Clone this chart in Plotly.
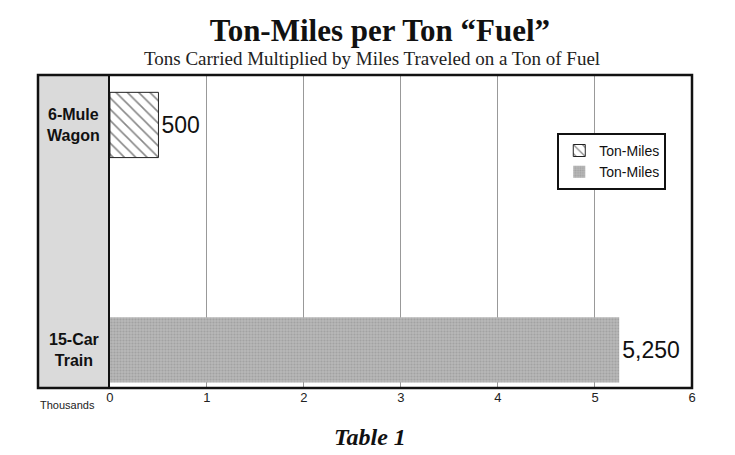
import plotly.graph_objs as go

categories = ['6-Mule Wagon', '15-Car Train']
labels = ['6-Mule<br>Wagon', '15-Car<br>Train']
ton_miles = [0.5, 5.25]  # thousands
ticks = [0, 1, 2, 3, 4, 5, 6]

serif = 'Liberation Serif, Times New Roman, serif'
sans = 'Liberation Sans, Arial, sans-serif'

y_range = [1.169, -0.222]  # reversed category axis

fig = go.Figure()

# wagon bar - diagonal hatch
fig.add_trace(go.Bar(
    y=[categories[0]], x=[ton_miles[0]], orientation='h', name='Ton-Miles',
    width=0.29,
    marker=dict(color='white', line=dict(color='#222', width=1),
                pattern=dict(shape='\\', fgcolor='#111', bgcolor='white',
                             size=8, solidity=0.2)),
    text=[f'{ton_miles[0] * 1000:,.0f}'], textposition='outside',
    textfont=dict(family=sans, size=23, color='#111'), cliponaxis=False,
))

# train bar - gray stipple
fig.add_trace(go.Bar(
    y=[categories[1]], x=[ton_miles[1]], orientation='h', name='Ton-Miles',
    width=0.29,
    marker=dict(color='#b0b0b0', line=dict(width=0),
                pattern=dict(shape='.', fgcolor='#8a8a8a', bgcolor='#b8b8b8',
                             size=3, solidity=0.4)),
    text=[f'{ton_miles[1] * 1000:,.0f}'], textposition='outside',
    textfont=dict(family=sans, size=23, color='#111'), cliponaxis=False,
))

# gray band behind category labels
fig.add_shape(type='rect', xref='paper', yref='paper', x0=0, x1=0.110, y0=0, y1=1,
              fillcolor='#dadada', line=dict(width=0), layer='below')
# outer frame
fig.add_shape(type='rect', xref='paper', yref='paper', x0=0, x1=1, y0=0, y1=1,
              line=dict(color='#111', width=2.5))

# category labels sit in the gray band, level with their bars
for i, lab in enumerate(labels):
    yp = (y_range[0] - i) / (y_range[0] - y_range[1])
    fig.add_annotation(x=0.055, xref='paper', y=yp, yref='paper', text='<b>' + lab + '</b>',
                       showarrow=False, font=dict(family=sans, size=16, color='#111'),
                       align='center', xanchor='center', yanchor='middle')

fig.add_annotation(x=0.0, xref='paper', y=-0.054, yref='paper', yanchor='middle',
                   text='Thousands', showarrow=False, xanchor='left',
                   font=dict(family=sans, size=11, color='#222'))
fig.add_annotation(x=0.508, xref='paper', y=-0.157, yref='paper', yanchor='middle',
                   text='<b><i>Table 1</i></b>',
                   showarrow=False, font=dict(family=serif, size=24, color='#111'))
fig.add_annotation(x=0.511, xref='paper', y=1.054, yref='paper', yanchor='middle',
                   text='Tons Carried Multiplied by Miles Traveled on a Ton of Fuel',
                   showarrow=False, font=dict(family=serif, size=19, color='#222'))

fig.update_layout(
    width=735, height=455,
    margin=dict(l=30, r=51, t=67, b=75, autoexpand=False),
    paper_bgcolor='white', plot_bgcolor='white',
    title=dict(text='<b>Ton-Miles per Ton “Fuel”</b>', x=0.506, xanchor='center',
               y=0.952, yanchor='middle', font=dict(family=serif, size=31, color='#111')),
    showlegend=True,
    legend=dict(x=0.794, y=0.815, xanchor='left', yanchor='top',
                bgcolor='white', bordercolor='#111', borderwidth=2,
                font=dict(family=sans, size=14, color='#111'),
                tracegroupgap=4),
    xaxis=dict(domain=[0.110, 1], range=[0, 6], tickvals=ticks,
               showgrid=True, gridcolor='#999', gridwidth=1, zeroline=False,
               tickfont=dict(family=sans, size=13, color='#222'), ticks=''),
    yaxis=dict(categoryorder='array', categoryarray=categories,
               range=y_range, showticklabels=False, showgrid=False,
               showline=True, linecolor='#111', linewidth=1.5, zeroline=False),
    font=dict(family=sans),
)

fig.write_html('out.html')
